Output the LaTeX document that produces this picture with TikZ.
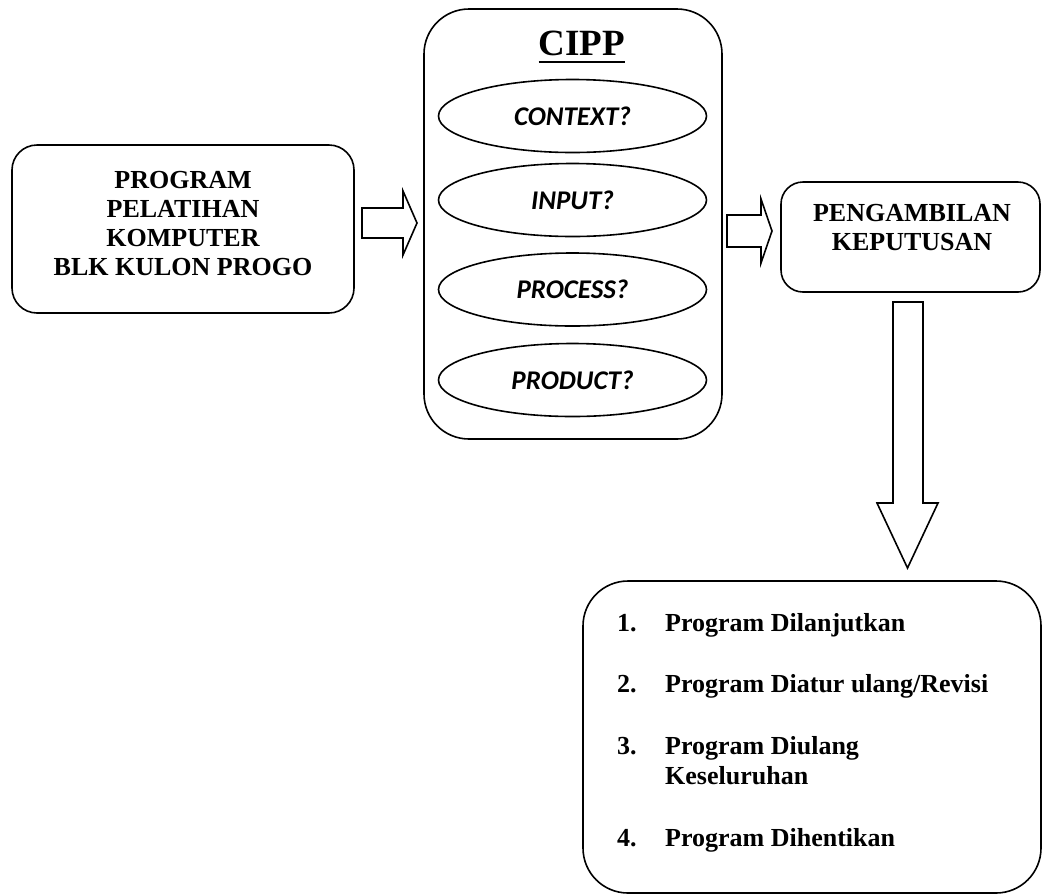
\documentclass[tikz,border=0pt]{standalone}
\usepackage{fontspec}
\setmainfont{Liberation Serif}
\newfontfamily\calfont{Carlito}
\usetikzlibrary{shapes.geometric,calc}
\begin{document}
\begin{tikzpicture}[x=1pt,y=-1pt,
  box/.style={draw,line width=1.6pt,rounded corners=#1,inner sep=0pt},
  boxtext/.style={font=\fontsize{26}{29}\selectfont\bfseries,align=center,inner sep=0pt},
  oval/.style={draw,ellipse,line width=1.6pt,minimum width=268pt,minimum height=73pt,inner sep=0pt,
    font=\calfont\fontsize{27}{30}\selectfont\bfseries\itshape},
  blockarrow/.style={draw,line width=1.6pt,line join=miter,fill=white},
  itemtext/.style={font=\fontsize{26}{29}\selectfont\bfseries,inner sep=0pt,anchor=base west}]
\useasboundingbox (0,0) rectangle (1043,895);

% left box
\node[box=25pt,minimum width=342pt,minimum height=168pt] (prog) at (183,229) {};
\node[boxtext] (progtext) at (183,224) {PROGRAM\\PELATIHAN\\KOMPUTER\\BLK KULON PROGO};

% CIPP box
\node[box=45pt,minimum width=298pt,minimum height=430pt] (cipp) at (573,224) {};
\node[font=\fontsize{37}{40}\selectfont\bfseries,inner sep=0pt,anchor=base] (title) at (582,55) {CIPP};
\draw[line width=2.4pt] ([yshift=-7pt]title.base west) -- ([yshift=-7pt]title.base east);
\node[oval] (context) at (572.5,116) {CONTEXT?};
\node[oval] (input) at (572.5,200) {INPUT?};
\node[oval] (process) at (572.5,289.5) {PROCESS?};
\node[oval] (product) at (572.5,380) {PRODUCT?};

% decision box
\node[box=22pt,minimum width=259pt,minimum height=110pt] (keputusan) at (910.5,237) {};
\node[boxtext] (keptext) at (912,227.5) {PENGAMBILAN\\KEPUTUSAN};

% result box
\node[box=45pt,minimum width=458pt,minimum height=312pt] (hasil) at (812,737) {};
\node[itemtext] (n1) at (617,631) {1.};
\node[itemtext] (t1) at (665,631) {Program Dilanjutkan};
\node[itemtext] (n2) at (617,692) {2.};
\node[itemtext] (t2) at (665,692) {Program Diatur ulang/Revisi};
\node[itemtext] (n3) at (617,754) {3.};
\node[itemtext] (t3) at (665,754) {Program Diulang};
\node[itemtext] (t3b) at (665,784) {Keseluruhan};
\node[itemtext] (n4) at (617,846) {4.};
\node[itemtext] (t4) at (665,846) {Program Dihentikan};

% block arrows
\draw[blockarrow] (362,208) -- (403,208) -- (403,191) -- (417,223) -- (403,255) -- (403,238) -- (362,238) -- cycle;
\draw[blockarrow] (727,215) -- (761,215) -- (761,199) -- (772,231) -- (761,263) -- (761,247) -- (727,247) -- cycle;
\draw[blockarrow] (893,302) -- (923,302) -- (923,503) -- (938,503) -- (907.5,568) -- (877,503) -- (893,503) -- cycle;
\end{tikzpicture}
\end{document}
